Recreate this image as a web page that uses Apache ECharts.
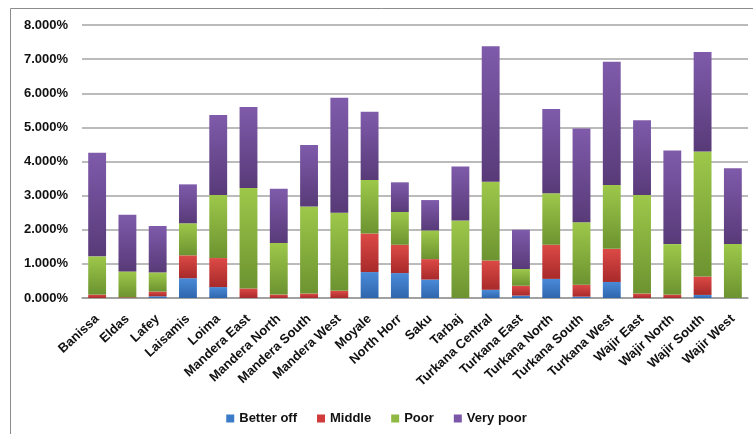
<!DOCTYPE html>
<html>
<head>
<meta charset="utf-8">
<script src="https://cdn.jsdelivr.net/npm/echarts@6/dist/echarts.min.js"></script>
<style>html,body{margin:0;padding:0;background:#fff;}#c{width:753px;height:434px;}</style>
</head>
<body>
<div id="c"></div>
<script>
const categories = ["Banissa","Eldas","Lafey","Laisamis","Loima","Mandera East","Mandera North","Mandera South","Mandera West","Moyale","North Horr","Saku","Tarbaj","Turkana Central","Turkana East","Turkana North","Turkana South","Turkana West","Wajir East","Wajir North","Wajir South","Wajir West"];
const betterOff = [0, 0, 0.05, 0.58, 0.32, 0, 0, 0, 0, 0.76, 0.73, 0.54, 0, 0.24, 0.07, 0.56, 0.04, 0.47, 0, 0, 0.09, 0];
const middle    = [0.10, 0.02, 0.14, 0.67, 0.85, 0.28, 0.10, 0.13, 0.21, 1.13, 0.83, 0.60, 0, 0.86, 0.29, 1.00, 0.35, 0.97, 0.13, 0.10, 0.54, 0];
const poor      = [1.12, 0.76, 0.56, 0.94, 1.85, 2.94, 1.51, 2.55, 2.29, 1.57, 0.96, 0.84, 2.27, 2.31, 0.49, 1.51, 1.83, 1.87, 2.89, 1.48, 3.66, 1.58];
const veryPoor  = [3.04, 1.66, 1.36, 1.14, 2.34, 2.38, 1.59, 1.80, 3.37, 2.00, 0.87, 0.89, 1.58, 3.97, 1.15, 2.47, 2.75, 3.61, 2.19, 2.74, 2.92, 2.22];
const yTicks = [0,1,2,3,4,5,6,7,8];

const grad = (top, bottom) => new echarts.graphic.LinearGradient(0,0,0,1,[{offset:0,color:top},{offset:1,color:bottom}]);
const seriesDefs = [
  {name:'Better off', data: betterOff, c:['#4a8ad8','#2f66ad'], lc:'#3b7bc8'},
  {name:'Middle', data: middle, c:['#dc4a46','#a82a2a'], lc:'#d13b3b'},
  {name:'Poor', data: poor, c:['#9dc84a','#6c9330'], lc:'#8fb844'},
  {name:'Very poor', data: veryPoor, c:['#7f5bab','#583a78'], lc:'#7b57a8'}
];

const chart = echarts.init(document.getElementById('c'), null, {renderer:'canvas'});
chart.setOption({
  animation: false,
  backgroundColor: '#fff',
  textStyle: {fontFamily: 'Liberation Sans'},
  graphic: [
    {type:'line', shape:{x1:10.5,y1:8.5,x2:753,y2:8.5}, style:{stroke:'#8c8c8c',lineWidth:1}},
    {type:'line', shape:{x1:10.5,y1:8.5,x2:10.5,y2:434}, style:{stroke:'#8c8c8c',lineWidth:1}}
  ],
  grid: {left: 82, right: 5, top: 25, bottom: 136, containLabel: false},
  legend: {
    data: seriesDefs.map(s => ({name: s.name, itemStyle: {color: s.lc}})),
    top: 407, left: 'center',
    icon: 'rect', itemWidth: 8, itemHeight: 8, itemGap: 20,
    textStyle: {fontWeight: 'bold', fontSize: 13, color: '#111', fontFamily: 'Liberation Sans'}
  },
  xAxis: {
    type: 'category',
    data: categories,
    axisTick: {show: false},
    axisLine: {lineStyle: {color: '#999', width: 1.5}},
    axisLabel: {rotate: 43, interval: 0, fontWeight: 'bold', fontSize: 13, color: '#111', margin: 19, fontFamily: 'Liberation Sans'}
  },
  yAxis: {
    type: 'value',
    min: yTicks[0], max: yTicks[yTicks.length-1], interval: 1,
    axisLine: {show: false},
    axisTick: {show: false},
    splitLine: {lineStyle: {color: '#a5a5a5', width: 1.5}},
    axisLabel: {formatter: v => v.toFixed(3) + '%', fontWeight: 'bold', fontSize: 13, color: '#111', margin: 14, fontFamily: 'Liberation Sans'}
  },
  series: seriesDefs.map(s => ({
    name: s.name, type: 'bar', stack: 'total', barWidth: '59%',
    data: s.data,
    itemStyle: {color: grad(s.c[0], s.c[1])}
  }))
});
</script>
</body>
</html>
